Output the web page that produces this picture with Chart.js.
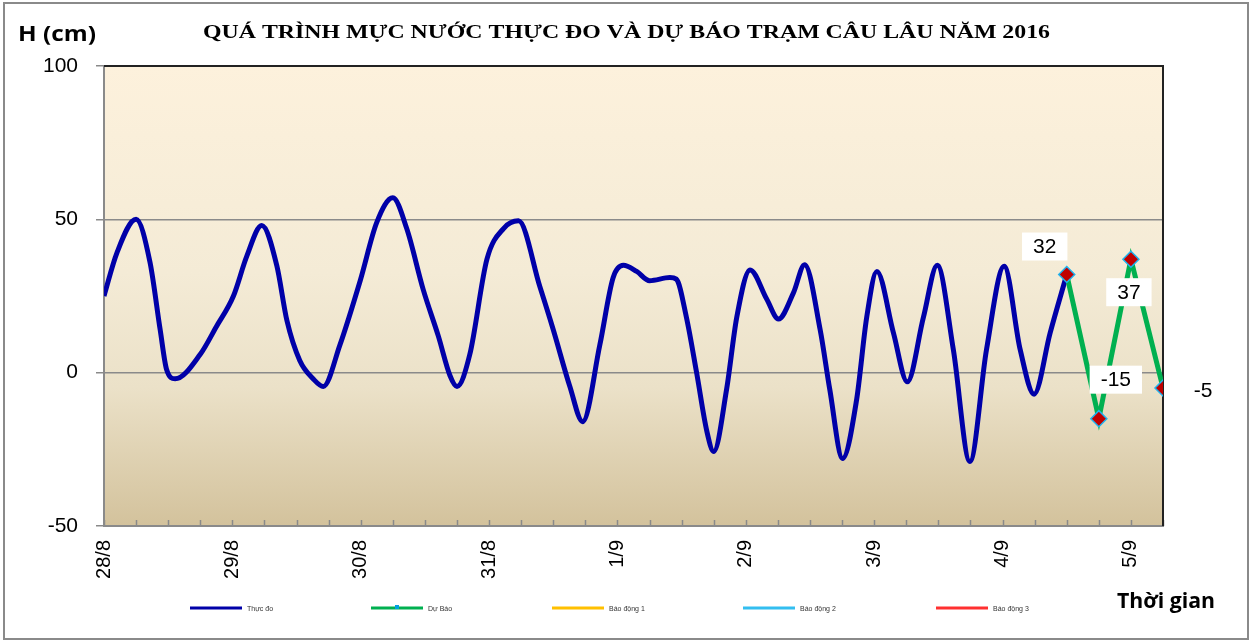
<!DOCTYPE html>
<html><head><meta charset="utf-8">
<script src="https://cdn.jsdelivr.net/npm/chart.js@4/dist/chart.umd.min.js"></script>
<style>html,body{margin:0;padding:0;background:#fff;}</style>
</head><body>
<canvas id="c" width="1253" height="642"></canvas>
<script>
const titleText = 'QUÁ TRÌNH MỰC NƯỚC THỰC ĐO VÀ DỰ BÁO TRẠM CÂU LÂU NĂM 2016';
const yTitle = 'H (cm)';
const xTitle = 'Thời gian';
const dayLabels = ['28/8','29/8','30/8','31/8','1/9','2/9','3/9','4/9','5/9'];
const seriesNames = ['Thực đo','Dự Báo','Báo động 1','Báo động 2','Báo động 3'];
// observed (hours since 28/8 00h)
const obsHours = [0,2.4,6,8.6,10.5,11.7,13.3,18,21,24.2,26.7,29.5,32.3,34.2,36.6,39.1,41,44.1,47.9,51,54,56.6,59.7,62.5,64.7,66,68.4,71.6,74.7,77.5,81.5,84,87.1,89.5,92.7,95.2,97.1,99.6,102,105.8,107,108.9,110.8,112.7,114,116.4,118.3,120.8,123.9,126.1,128.9,131,133.9,135.7,138.1,140.7,142.6,144.5,147.6,150.2,153.2,155.8,158.8,161.9,165,168.3,171.3,173.9,176.9,180];
const obsValues = [25,39,50,36,14,1,-2,6,15,25,38,48,35,17,4,-2,-4.5,9,30,49,57,47,27,12,-1,-4.5,6,37,47,49.5,28,14,-4.5,-16,9,31,35,33,30,31,30.5,18,0,-19,-25.7,-5.5,18,33.5,24,17.5,26,35.2,14,-5.5,-28,-9,18,33,13,-3,18,35,7.5,-29,7.5,34.7,7.5,-7,13,32];
// forecast
const fcHours = [180,186,192,198];
const fcValues = [32,-15,37,-5];
// alarm levels (not visible in range)
const alarm1 = [], alarm2 = [], alarm3 = [];

const colors = ['#0000A8','#00B050','#FFC000','#33BEF0','#FF3030'];

const toPts = (xs, ys) => xs.map((x,i)=>({x:x, y:ys[i]}));

const plotPlugin = {
  id:'plotDeco',
  beforeDraw(chart){
    const {ctx, chartArea:a} = chart;
    ctx.save();
    const g = ctx.createLinearGradient(0,a.top,0,a.bottom);
    g.addColorStop(0,'#FDF1DC');
    g.addColorStop(0.45,'#F4EBD6');
    g.addColorStop(0.7,'#EBE1C8');
    g.addColorStop(1,'#D3C29C');
    ctx.fillStyle = g;
    ctx.fillRect(a.left,a.top,a.right-a.left,a.bottom-a.top);
    ctx.strokeStyle = '#8a8a8a';
    ctx.lineWidth = 2;
    ctx.strokeRect(4,3,1244,636);
    ctx.restore();
  },
  beforeDatasetsDraw(chart){
    const {ctx, chartArea:a, scales} = chart;
    ctx.save();
    ctx.strokeStyle = '#8a8a8a';
    ctx.lineWidth = 1.5;
    scales.x.ticks.forEach(t=>{
      const px = Math.round(scales.x.getPixelForValue(t.value))+0.5;
      ctx.beginPath(); ctx.moveTo(px,a.bottom); ctx.lineTo(px,a.bottom-6); ctx.stroke();
    });
    ctx.strokeStyle = '#222';
    ctx.lineWidth = 2;
    ctx.beginPath();
    ctx.moveTo(a.left,a.top); ctx.lineTo(a.right,a.top); ctx.lineTo(a.right,a.bottom);
    ctx.stroke();
    ctx.restore();
  },
  afterDraw(chart){
    const {ctx} = chart;
    ctx.save();
    ctx.fillStyle = '#000';
    ctx.textBaseline = 'alphabetic';
    ctx.font = 'bold 19px "Liberation Serif"';
    let w = ctx.measureText(titleText).width;
    ctx.save();
    ctx.translate(203, 38);
    ctx.scale(847/w, 1);
    ctx.textAlign = 'left';
    ctx.fillText(titleText, 0, 0);
    ctx.restore();
    ctx.font = 'bold 21px "Open Sans"';
    w = ctx.measureText(yTitle).width;
    ctx.save(); ctx.translate(18,41); ctx.scale(78/w,1); ctx.fillText(yTitle,0,0); ctx.restore();
    ctx.font = 'bold 21px "Open Sans"';
    w = ctx.measureText(xTitle).width;
    ctx.save(); ctx.translate(1117,608); ctx.scale(98/w,1); ctx.fillText(xTitle,0,0); ctx.restore();
    const slots = [190,371,552,743,936];
    const ly = 608;
    chart.data.datasets.forEach((ds,i)=>{
      const x0 = slots[i];
      ctx.strokeStyle = ds.borderColor;
      ctx.lineWidth = 3;
      ctx.beginPath(); ctx.moveTo(x0,ly); ctx.lineTo(x0+52,ly); ctx.stroke();
      if(i===1){ ctx.fillStyle='#00A0E0'; ctx.fillRect(x0+24,ly-3,4,4); }
      ctx.fillStyle = '#333';
      ctx.font = '7px Arial';
      ctx.textAlign='left'; ctx.textBaseline='middle';
      ctx.fillText(ds.label, x0+57, ly+1);
    });
    ctx.restore();
  },
  afterDatasetsDraw(chart){
    const {ctx} = chart;
    const meta = chart.getDatasetMeta(1);
    const offs = [[-22,-28],[17,-39],[-2,33],[40,2]];
    const boxed = [true,true,true,false];
    ctx.save();
    ctx.font = '21px Arial';
    ctx.textAlign='center'; ctx.textBaseline='middle';
    meta.data.forEach((p,i)=>{
      const v = chart.data.datasets[1].data[i].y;
      const txt = String(v);
      const cx = p.x+offs[i][0], cy = p.y+offs[i][1];
      const tw = ctx.measureText(txt).width;
      if(boxed[i]){
        ctx.fillStyle='#fff';
        ctx.fillRect(cx-tw/2-11, cy-14, tw+22, 28);
      }
      ctx.fillStyle='#000';
      ctx.fillText(txt,cx,cy+1);
    });
    ctx.restore();
  }
};

new Chart(document.getElementById('c'), {
  type:'line',
  data:{
    datasets:[
      {label:seriesNames[0], data:toPts(obsHours,obsValues), borderColor:colors[0], borderWidth:5, pointRadius:0, cubicInterpolationMode:'monotone', order:2},
      {label:seriesNames[1], data:toPts(fcHours,fcValues), borderColor:colors[1], borderWidth:5, tension:0,
        pointStyle:'rectRot', pointRadius:8, pointBackgroundColor:'#C00000', pointBorderColor:'#1EB4F0', pointBorderWidth:1.5, order:1},
      {label:seriesNames[2], data:alarm1, borderColor:colors[2], borderWidth:3, pointRadius:0},
      {label:seriesNames[3], data:alarm2, borderColor:colors[3], borderWidth:3, pointRadius:0},
      {label:seriesNames[4], data:alarm3, borderColor:colors[4], borderWidth:3, pointRadius:0}
    ]
  },
  options:{
    responsive:false, animation:false, devicePixelRatio:1,
    layout:{padding:{left:0,top:66,right:90,bottom:0}},
    plugins:{legend:{display:false}, title:{display:false}, tooltip:{enabled:false}},
    scales:{
      x:{type:'linear', min:0, max:198,
        ticks:{stepSize:6, autoSkip:false, minRotation:90, maxRotation:90, padding:14,
          color:'#000', font:{family:'Arial', size:20},
          callback:(v)=> (v%24===0 && dayLabels[v/24]!==undefined) ? dayLabels[v/24] : ''},
        grid:{drawOnChartArea:false, drawTicks:false},
        border:{display:true, color:'#8a8a8a', width:2},
        afterFit:(s)=>{ s.height = 116; }
      },
      y:{min:-50, max:100,
        ticks:{stepSize:50, padding:18, color:'#000', font:{family:'Arial', size:21}},
        grid:{color:(c)=> c.tick && c.tick.value===100 ? 'rgba(0,0,0,0)' : '#8a8a8a', lineWidth:1.5, tickLength:8, tickColor:'#8a8a8a'},
        border:{display:true, color:'#8a8a8a', width:2},
        afterFit:(s)=>{ s.width = 104; }
      }
    }
  },
  plugins:[plotPlugin]
});
</script>
</body></html>
